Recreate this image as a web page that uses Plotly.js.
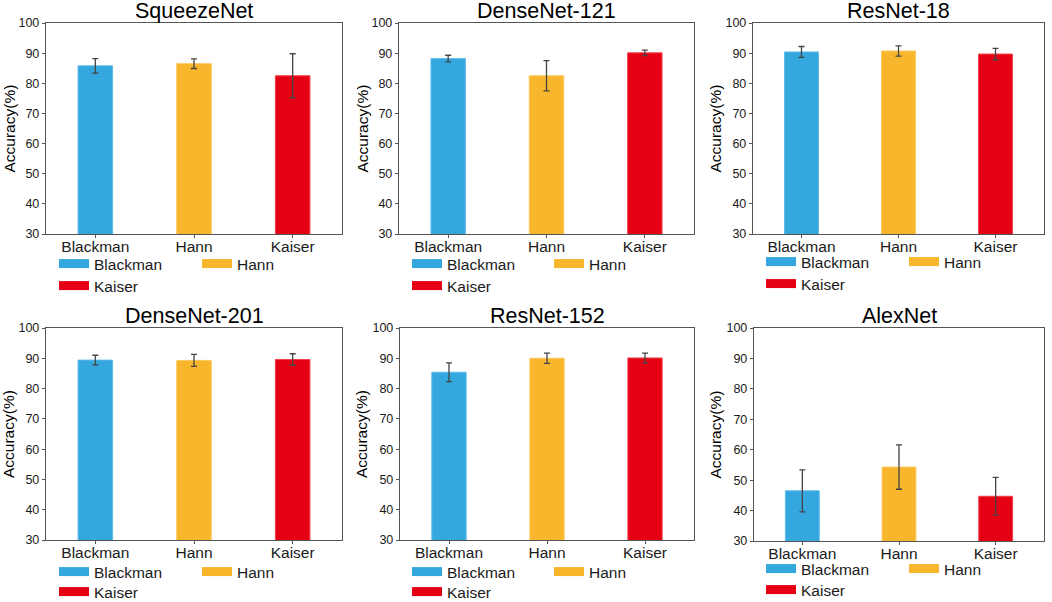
<!DOCTYPE html>
<html>
<head>
<meta charset="utf-8">
<script src="https://cdn.plot.ly/plotly-3.0.1.min.js"></script>
<style>
  html, body { margin: 0; padding: 0; background: #fff; }
  #chart { width: 1052px; height: 602px; }
</style>
</head>
<body>
<div id="chart"></div>
<script>
// ---------------- data ----------------
const models = ['SqueezeNet', 'DenseNet-121', 'ResNet-18', 'DenseNet-201', 'ResNet-152', 'AlexNet'];
const windows = ['Blackman', 'Hann', 'Kaiser'];
const blackmanMean = [85.8, 88.2, 90.4, 89.4, 85.4, 46.5];
const blackmanErr  = [2.4, 1.1, 1.8, 1.6, 3.1, 6.9];
const hannMean     = [86.5, 82.5, 90.7, 89.3, 90.0, 54.3];
const hannErr      = [1.6, 5.0, 1.7, 2.0, 1.7, 7.3];
const kaiserMean   = [82.5, 90.1, 89.7, 89.6, 90.1, 44.7];
const kaiserErr    = [7.3, 0.9, 1.9, 1.9, 1.6, 6.2];
const yTickVals    = [30, 40, 50, 60, 70, 80, 90, 100];
const yTitle       = 'Accuracy(%)';

// ---------------- styles / layout geometry ----------------
const means = [blackmanMean, hannMean, kaiserMean];
const errs  = [blackmanErr, hannErr, kaiserErr];
const fillColors = ['#35A7DF', '#F8B62D', '#E60013'];
const edgeColors = ['#5DBBE8', '#FBC95E', '#F0404C'];
const FONT = 'Liberation Sans, Arial, Helvetica, sans-serif';
const AXIS_COLOR = '#555555';
const W = 1052, H = 602;
// plot boxes in pixels: [left, right, top, bottom]
const boxes = [
  [46, 342, 23, 234], [399, 694, 23, 234], [753, 1044, 23, 234],
  [46, 342, 328, 540], [400, 694, 328, 540], [754, 1044, 328, 541]
];
const yTitleX = [9, 362, 715, 9, 362, 715];
// legend text-left positions (x) and row centres (y) per panel, pixels
const legendX = [[94, 237], [447, 589], [801, 944], [94, 237], [447, 589], [801, 944]];
const legendY = [[264, 286], [264, 286], [262, 284], [572, 592], [572, 592], [569, 590]];

const traces = [];
const layout = {
  width: W, height: H,
  margin: {l: 0, r: 0, t: 0, b: 0, autoexpand: false},
  paper_bgcolor: '#ffffff', plot_bgcolor: '#ffffff',
  font: {family: FONT, color: '#1a1a1a'},
  barmode: 'overlay',
  showlegend: true,
  annotations: []
};

let legendCount = 0;
models.forEach((model, i) => {
  const [l, r, t, b] = boxes[i];
  const xid = i === 0 ? 'x' : 'x' + (i + 1);
  const yid = i === 0 ? 'y' : 'y' + (i + 1);
  const xkey = i === 0 ? 'xaxis' : 'xaxis' + (i + 1);
  const ykey = i === 0 ? 'yaxis' : 'yaxis' + (i + 1);

  layout[xkey] = {
    domain: [l / W, r / W], anchor: yid, type: 'category',
    categoryorder: 'array', categoryarray: windows,
    range: [-0.5, 2.5],
    showline: true, mirror: true, linecolor: AXIS_COLOR, linewidth: 1.2,
    ticks: 'outside', ticklen: 3, tickcolor: AXIS_COLOR,
    ticklabelstandoff: -5,
    tickfont: {size: 15.5, family: FONT, color: '#1a1a1a'},
    showgrid: false, zeroline: false, fixedrange: true
  };
  layout[ykey] = {
    domain: [1 - b / H, 1 - t / H], anchor: xid,
    range: [30, 100], tickvals: yTickVals,
    showline: true, mirror: true, linecolor: AXIS_COLOR, linewidth: 1.2,
    ticks: 'outside', ticklen: 3, tickcolor: AXIS_COLOR,
    tickfont: {size: 12.5, family: FONT, color: '#1a1a1a'},
    showgrid: false, zeroline: false, fixedrange: true
  };

  windows.forEach((w, j) => {
    traces.push({
      type: 'bar', x: [w], y: [means[j][i]], width: 0.35,
      xaxis: xid, yaxis: yid, showlegend: false, name: w,
      marker: {color: fillColors[j], line: {color: edgeColors[j], width: 1}},
      error_y: {type: 'data', array: [errs[j][i]], visible: true,
                color: '#444444', thickness: 1.3, width: 3}
    });
  });

  // legend entries (one small legend per entry so they sit like the original)
  windows.forEach((w, j) => {
    legendCount += 1;
    const lid = legendCount === 1 ? 'legend' : 'legend' + legendCount;
    const col = j === 2 ? 0 : j;
    const row = j === 2 ? 1 : 0;
    traces.push({
      type: 'scatter', mode: 'lines', x: [null], y: [null],
      xaxis: xid, yaxis: yid, name: w, legend: lid, showlegend: true,
      hoverinfo: 'skip',
      line: {color: fillColors[j], width: 9}
    });
    layout[lid] = {
      x: (legendX[i][col] - 40) / W, xanchor: 'left',
      y: 1 - legendY[i][row] / H, yanchor: 'middle',
      orientation: 'v', bgcolor: 'rgba(0,0,0,0)', borderwidth: 0,
      font: {size: 15.5, family: FONT, color: '#1a1a1a'},
      itemclick: false, itemdoubleclick: false
    };
  });

  // panel title
  layout.annotations.push({
    xref: 'paper', yref: 'paper', x: ((l + r) / 2) / W, y: 1 - t / H,
    xanchor: 'center', yanchor: 'bottom', yshift: -2, showarrow: false,
    text: model, font: {size: 21.5, family: FONT, color: '#000000'}
  });
  // y-axis title
  layout.annotations.push({
    xref: 'paper', yref: 'paper', x: yTitleX[i] / W, y: 1 - ((t + b) / 2) / H,
    xanchor: 'center', yanchor: 'middle', textangle: -90, showarrow: false,
    text: yTitle, font: {size: 15.5, family: FONT, color: '#000000'}
  });
});

Plotly.newPlot('chart', traces, layout, {displayModeBar: false, staticPlot: true});
</script>
</body>
</html>
